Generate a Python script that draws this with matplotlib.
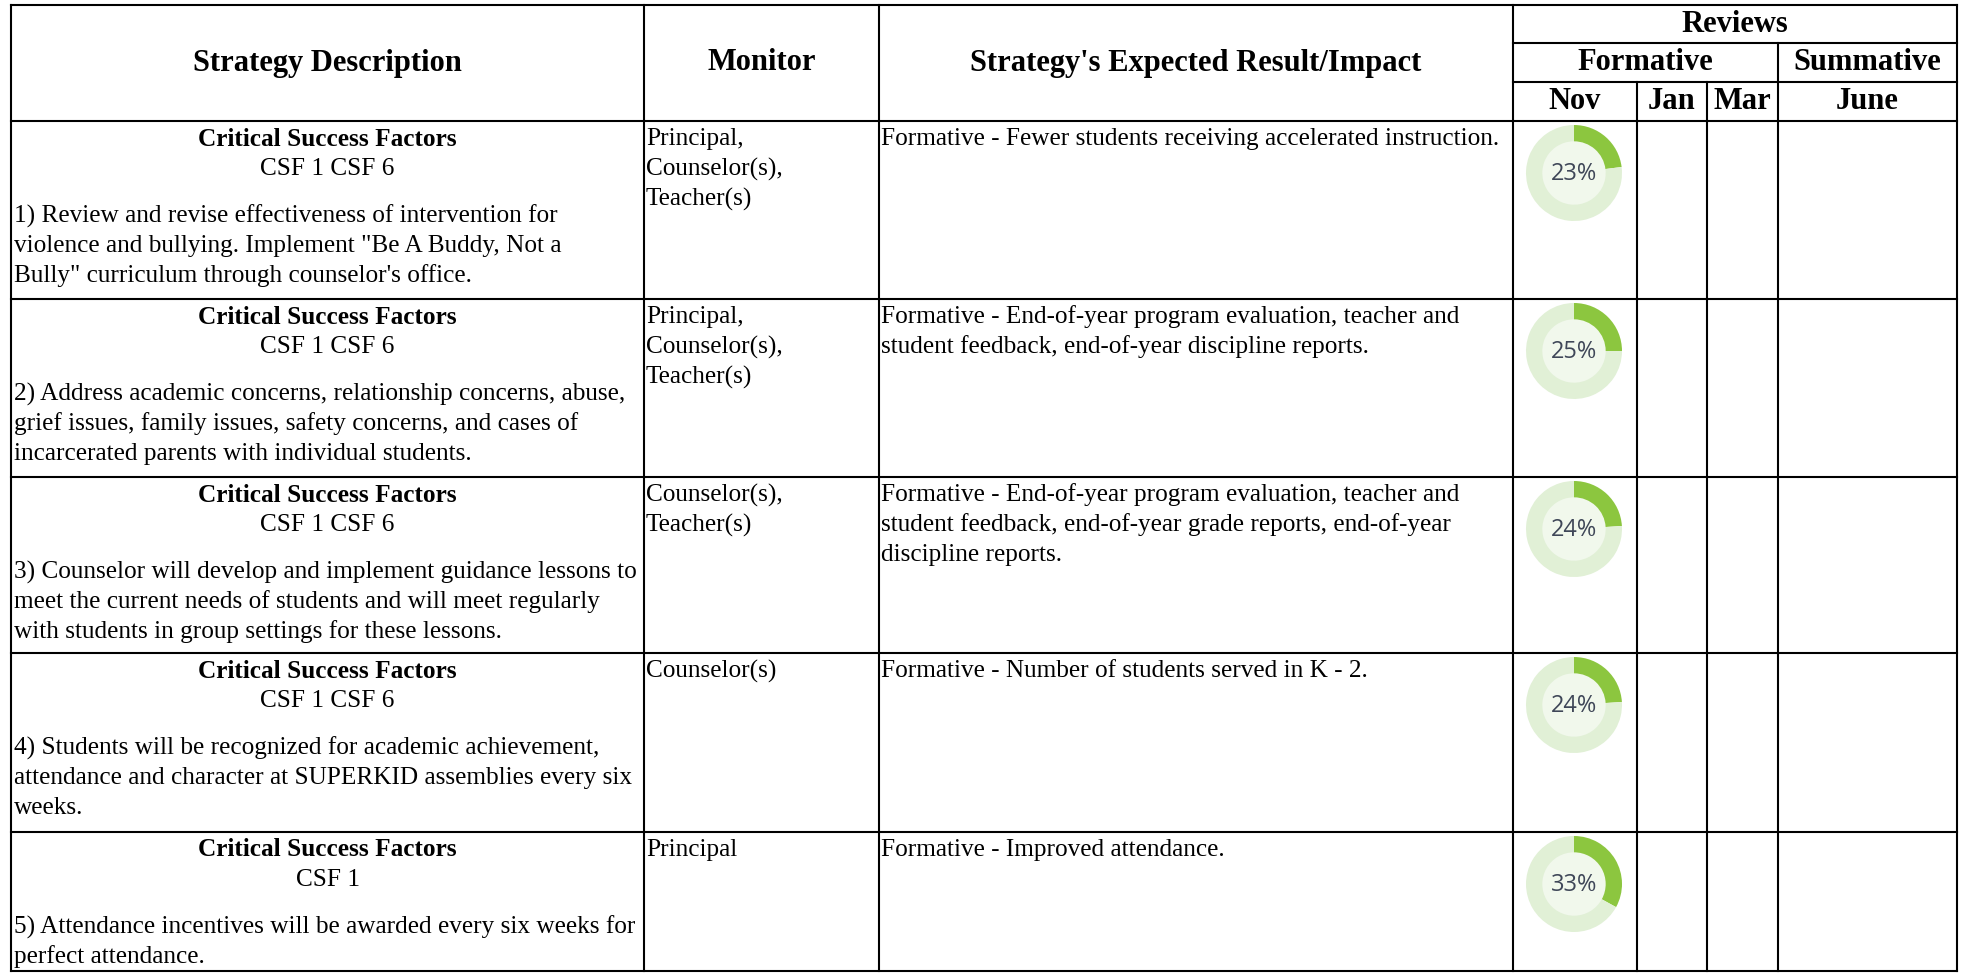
# Strategy review table with Nov progress donuts

import matplotlib.pyplot as plt
from matplotlib.patches import Circle

# Table content
csf = ["CSF 1 CSF 6", "CSF 1 CSF 6", "CSF 1 CSF 6", "CSF 1 CSF 6", "CSF 1"]
strategies = [
    ["1) Review and revise effectiveness of intervention for",
     "violence and bullying. Implement \"Be A Buddy, Not a",
     "Bully\" curriculum through counselor's office."],
    ["2) Address academic concerns, relationship concerns, abuse,",
     "grief issues, family issues, safety concerns, and cases of",
     "incarcerated parents with individual students."],
    ["3) Counselor will develop and implement guidance lessons to",
     "meet the current needs of students and will meet regularly",
     "with students in group settings for these lessons."],
    ["4) Students will be recognized for academic achievement,",
     "attendance and character at SUPERKID assemblies every six",
     "weeks."],
    ["5) Attendance incentives will be awarded every six weeks for",
     "perfect attendance."],
]
monitors = [
    ["Principal,", "Counselor(s),", "Teacher(s)"],
    ["Principal,", "Counselor(s),", "Teacher(s)"],
    ["Counselor(s),", "Teacher(s)"],
    ["Counselor(s)"],
    ["Principal"],
]
impacts = [
    ["Formative - Fewer students receiving accelerated instruction."],
    ["Formative - End-of-year program evaluation, teacher and",
     "student feedback, end-of-year discipline reports."],
    ["Formative - End-of-year program evaluation, teacher and",
     "student feedback, end-of-year grade reports, end-of-year",
     "discipline reports."],
    ["Formative - Number of students served in K - 2."],
    ["Formative - Improved attendance."],
]
nov_pct = [23, 25, 24, 24, 33]

# Layout in pixels
W, H = 1969, 974
left, right = 11, 1957
col_x = [644, 879, 1513, 1637, 1707, 1778]
top, h1, h2, head_bot = 5, 43, 82, 121
row_y = [121, 299, 477, 653, 832, 971]

serif = "Liberation Serif"
body = 18.2
head = 22
lw = 1.5

fig = plt.figure(figsize=(W/100, H/100), dpi=100)
ax = fig.add_axes([0, 0, 1, 1])
ax.set_xlim(0, W)
ax.set_ylim(H, 0)
ax.axis('off')

# grid lines
ax.plot([left, right], [top, top], color='k', lw=lw)
for y in row_y:
    ax.plot([left, right], [y, y], color='k', lw=lw)
ax.plot([col_x[2], right], [h1, h1], color='k', lw=lw)
ax.plot([col_x[2], right], [h2, h2], color='k', lw=lw)
for x in [left, col_x[0], col_x[1], col_x[2], right]:
    ax.plot([x, x], [top, row_y[-1]], color='k', lw=lw)
ax.plot([col_x[5], col_x[5]], [h1, row_y[-1]], color='k', lw=lw)
for x in col_x[3:5]:
    ax.plot([x, x], [h2, row_y[-1]], color='k', lw=lw)

# header
hy = (top + head_bot) / 2
ax.text((left + col_x[0]) / 2, hy, "Strategy Description", ha='center', va='center',
        family=serif, fontsize=head, fontweight='bold')
ax.text((col_x[0] + col_x[1]) / 2, hy, "Monitor", ha='center', va='center',
        family=serif, fontsize=head, fontweight='bold')
ax.text((col_x[1] + col_x[2]) / 2, hy, "Strategy's Expected Result/Impact", ha='center',
        va='center', family=serif, fontsize=head, fontweight='bold')
ax.text((col_x[2] + right) / 2, (top + h1) / 2, "Reviews", ha='center', va='center',
        family=serif, fontsize=head, fontweight='bold')
ax.text((col_x[2] + col_x[5]) / 2, (h1 + h2) / 2, "Formative", ha='center', va='center',
        family=serif, fontsize=head, fontweight='bold')
ax.text((col_x[5] + right) / 2, (h1 + h2) / 2, "Summative", ha='center', va='center',
        family=serif, fontsize=head, fontweight='bold')
months = ["Nov", "Jan", "Mar", "June"]
mx = [col_x[2], col_x[3], col_x[4], col_x[5], right]
for i, m in enumerate(months):
    ax.text((mx[i] + mx[i+1]) / 2, (h2 + head_bot) / 2, m, ha='center', va='center',
            family=serif, fontsize=head, fontweight='bold')

# body rows
L = 30
for i in range(len(strategies)):
    t = row_y[i]
    cx = (left + col_x[0]) / 2
    ax.text(cx, t + 18, "Critical Success Factors", ha='center', va='center',
            family=serif, fontsize=body, fontweight='bold')
    ax.text(cx, t + 18 + L, csf[i], ha='center', va='center', family=serif, fontsize=body)
    for j, line in enumerate(strategies[i]):
        ax.text(left + 3, t + 95 + j * L, line, ha='left', va='center',
                family=serif, fontsize=body)
    for j, line in enumerate(monitors[i]):
        ax.text(col_x[0] + 2, t + 18 + j * L, line, ha='left', va='center',
                family=serif, fontsize=body)
    for j, line in enumerate(impacts[i]):
        ax.text(col_x[1] + 2, t + 18 + j * L, line, ha='left', va='center',
                family=serif, fontsize=body)

    # donut for Nov review
    r = 48
    dx = (col_x[2] + col_x[3]) / 2 - 1
    dy = t + 52
    dax = fig.add_axes([(dx - r) / W, 1 - (dy + r) / H, 2 * r / W, 2 * r / H])
    dax.pie([nov_pct[i], 100 - nov_pct[i]], colors=['#8cc63f', '#e1f0d6'],
            startangle=90, counterclock=False,
            wedgeprops=dict(width=0.34, edgecolor='none'))
    dax.add_patch(Circle((0, 0), 0.66, color='#f1f8ec', zorder=0))
    dax.text(0, -0.02, f"{nov_pct[i]}%", ha='center', va='center', family='Open Sans',
             fontsize=17, color='#3f4758')
    dax.set_xlim(-1, 1)
    dax.set_ylim(-1, 1)
    dax.axis('off')

plt.savefig('out.png', dpi=100)
